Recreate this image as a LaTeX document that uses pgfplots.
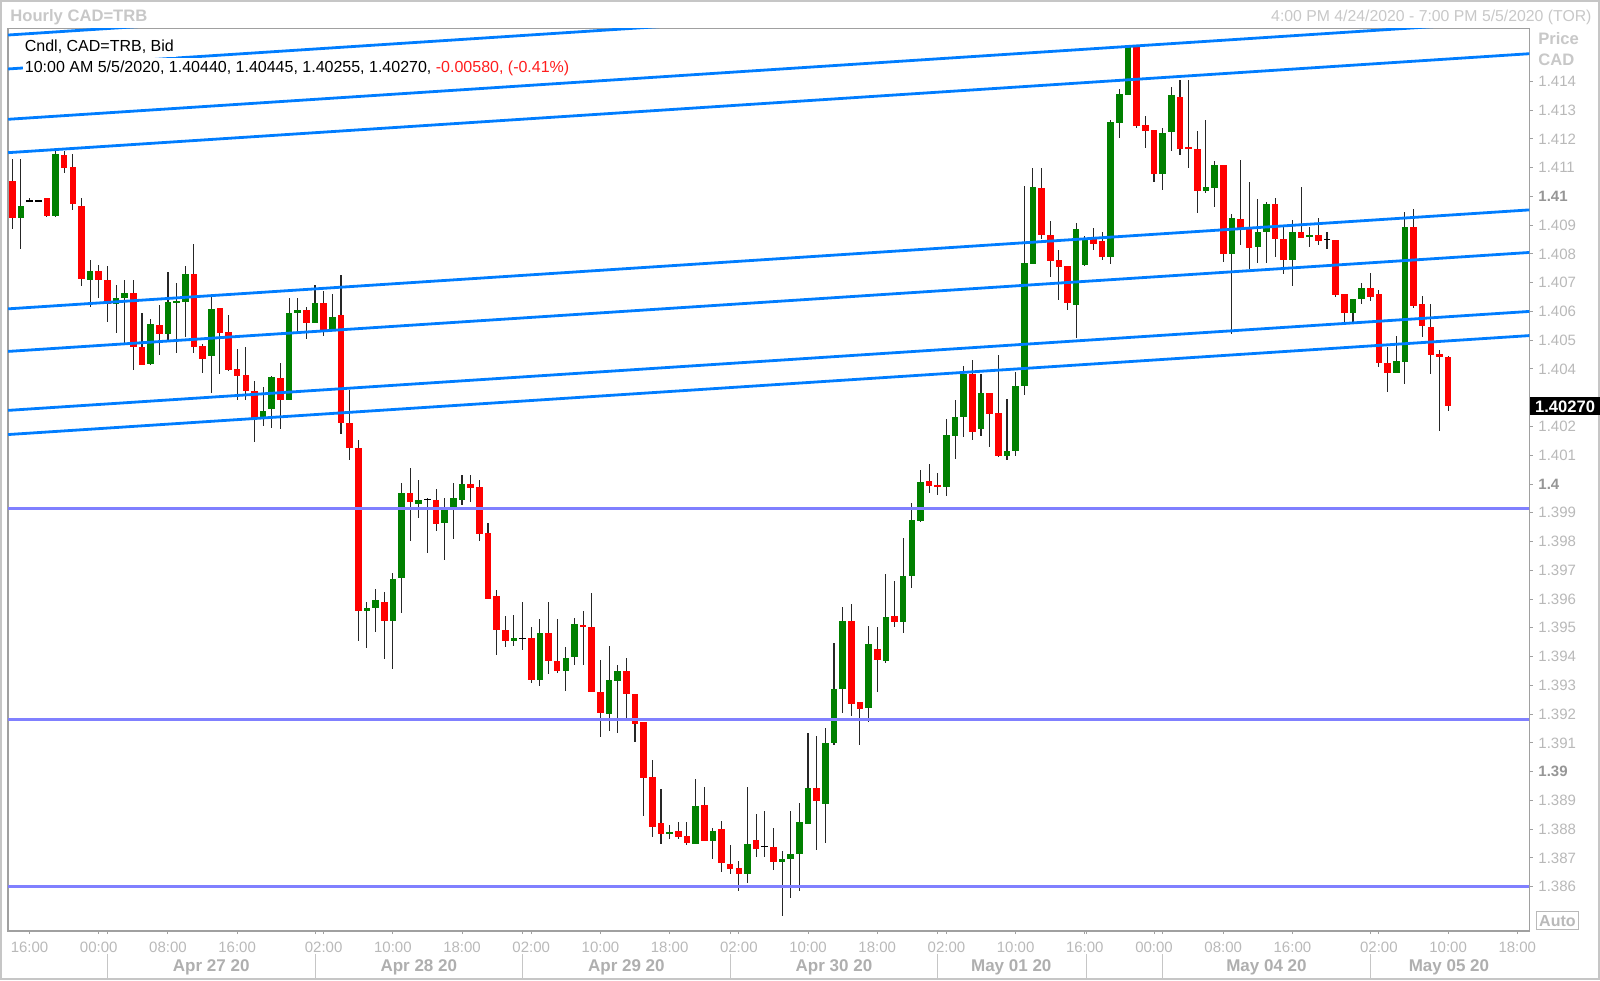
\documentclass[border=0pt]{standalone}
\usepackage{pgfplots}
\usepackage{pgfplotstable}
\pgfplotsset{compat=1.18}
\usepackage{fontspec}
\setmainfont{Liberation Sans}

\definecolor{framegray}{RGB}{160,160,160}
\definecolor{titlegray}{RGB}{200,200,200}
\definecolor{lightlab}{RGB}{185,185,185}
\definecolor{datelab}{RGB}{175,175,175}
\definecolor{boldlab}{RGB}{150,150,150}
\definecolor{upgreen}{RGB}{0,128,0}
\definecolor{downred}{RGB}{255,0,0}
\definecolor{trendblue}{RGB}{0,125,255}
\definecolor{levelblue}{RGB}{128,128,255}
\definecolor{legred}{RGB}{255,30,30}

% hourly candles, CAD=TRB bid (bar index, open, high, low, close)
\pgfplotstableread{
i o h l c
0 1.41054 1.41130 1.40887 1.40926
1 1.40926 1.41130 1.40817 1.40967
2 1.40984 1.40995 1.40981 1.40984
3 1.40984 1.40988 1.40981 1.40984
4 1.40995 1.40995 1.40929 1.40932
5 1.40932 1.41159 1.40929 1.41146
6 1.41146 1.41159 1.41080 1.41101
7 1.41103 1.41150 1.40953 1.40973
8 1.40968 1.40994 1.40688 1.40712
9 1.40712 1.40779 1.40617 1.40742
10 1.40742 1.40762 1.40646 1.40712
11 1.40712 1.40758 1.40565 1.40626
12 1.40626 1.40692 1.40526 1.40646
13 1.40646 1.40712 1.40489 1.40663
14 1.40663 1.40712 1.40396 1.40478
15 1.40478 1.40596 1.40414 1.40416
16 1.40416 1.40576 1.40416 1.40557
17 1.40553 1.40623 1.40449 1.40522
18 1.40522 1.40738 1.40501 1.40634
19 1.40631 1.40700 1.40457 1.40637
20 1.40634 1.40759 1.40512 1.40730
21 1.40730 1.40837 1.40457 1.40478
22 1.40480 1.40487 1.40386 1.40435
23 1.40445 1.40663 1.40319 1.40608
24 1.40613 1.40613 1.40385 1.40524
25 1.40528 1.40588 1.40396 1.40396
26 1.40401 1.40468 1.40292 1.40376
27 1.40379 1.40478 1.40292 1.40323
28 1.40324 1.40359 1.40147 1.40229
29 1.40234 1.40338 1.40203 1.40255
30 1.40260 1.40376 1.40194 1.40371
31 1.40371 1.40420 1.40190 1.40292
32 1.40292 1.40646 1.40292 1.40596
33 1.40596 1.40646 1.40530 1.40605
34 1.40605 1.40617 1.40503 1.40562
35 1.40562 1.40692 1.40562 1.40632
36 1.40632 1.40672 1.40515 1.40538
37 1.40538 1.40663 1.40538 1.40582
38 1.40587 1.40727 1.40174 1.40213
39 1.40211 1.40327 1.40085 1.40124
40 1.40126 1.40156 1.39455 1.39559
41 1.39559 1.39591 1.39432 1.39570
42 1.39568 1.39634 1.39487 1.39599
43 1.39591 1.39624 1.39394 1.39525
44 1.39525 1.39690 1.39357 1.39672
45 1.39672 1.40005 1.39553 1.39971
46 1.39971 1.40057 1.39803 1.39939
47 1.39933 1.40014 1.39883 1.39945
48 1.39945 1.39954 1.39763 1.39945
49 1.39945 1.39982 1.39838 1.39864
50 1.39864 1.39954 1.39736 1.39910
51 1.39919 1.40005 1.39808 1.39954
52 1.39945 1.40031 1.39927 1.40002
53 1.40000 1.40031 1.39939 1.39989
54 1.39991 1.40014 1.39803 1.39826
55 1.39829 1.39864 1.39600 1.39600
56 1.39611 1.39631 1.39405 1.39492
57 1.39492 1.39542 1.39432 1.39455
58 1.39455 1.39545 1.39440 1.39464
59 1.39464 1.39591 1.39425 1.39464
60 1.39464 1.39504 1.39310 1.39318
61 1.39318 1.39533 1.39299 1.39483
62 1.39483 1.39589 1.39339 1.39385
63 1.39385 1.39533 1.39345 1.39350
64 1.39350 1.39434 1.39280 1.39397
65 1.39397 1.39533 1.39371 1.39513
66 1.39513 1.39560 1.39371 1.39506
67 1.39506 1.39622 1.39278 1.39278
68 1.39278 1.39388 1.39121 1.39203
69 1.39203 1.39437 1.39141 1.39321
70 1.39316 1.39371 1.39135 1.39351
71 1.39351 1.39397 1.39185 1.39270
72 1.39270 1.39270 1.39104 1.39166
73 1.39174 1.39174 1.38849 1.38979
74 1.38982 1.39040 1.38774 1.38808
75 1.38822 1.38940 1.38751 1.38783
76 1.38783 1.38814 1.38765 1.38791
77 1.38794 1.38826 1.38765 1.38774
78 1.38776 1.38826 1.38745 1.38751
79 1.38751 1.38977 1.38751 1.38881
80 1.38884 1.38949 1.38760 1.38760
81 1.38762 1.38806 1.38699 1.38795
82 1.38803 1.38832 1.38652 1.38683
83 1.38679 1.38745 1.38646 1.38664
84 1.38667 1.38689 1.38587 1.38644
85 1.38644 1.38949 1.38614 1.38751
86 1.38762 1.38855 1.38704 1.38733
87 1.38739 1.38863 1.38704 1.38739
88 1.38739 1.38806 1.38658 1.38687
89 1.38687 1.38725 1.38498 1.38699
90 1.38697 1.38863 1.38562 1.38716
91 1.38714 1.38892 1.38587 1.38825
92 1.38820 1.39137 1.38820 1.38943
93 1.38943 1.39124 1.38727 1.38899
94 1.38890 1.39153 1.38753 1.39102
95 1.39102 1.39447 1.39093 1.39290
96 1.39288 1.39571 1.39204 1.39525
97 1.39527 1.39583 1.39192 1.39238
98 1.39242 1.39242 1.39093 1.39217
99 1.39223 1.39506 1.39173 1.39444
100 1.39428 1.39503 1.39279 1.39387
101 1.39387 1.39689 1.39378 1.39540
102 1.39540 1.39664 1.39502 1.39521
103 1.39521 1.39813 1.39484 1.39679
104 1.39679 1.39934 1.39639 1.39875
105 1.39872 1.40049 1.39869 1.40009
106 1.40009 1.40072 1.39971 1.39993
107 1.39999 1.40039 1.39960 1.39989
108 1.39989 1.40227 1.39960 1.40169
109 1.40169 1.40291 1.40088 1.40235
110 1.40235 1.40412 1.40164 1.40382
111 1.40382 1.40431 1.40155 1.40183
112 1.40192 1.40382 1.40167 1.40316
113 1.40316 1.40316 1.40129 1.40244
114 1.40247 1.40449 1.40095 1.40098
115 1.40098 1.40297 1.40086 1.40115
116 1.40115 1.40390 1.40098 1.40341
117 1.40341 1.41036 1.40310 1.40769
118 1.40766 1.41099 1.40766 1.41032
119 1.41030 1.41101 1.40853 1.40866
120 1.40866 1.40915 1.40722 1.40777
121 1.40778 1.40816 1.40641 1.40756
122 1.40759 1.40759 1.40605 1.40630
123 1.40625 1.40909 1.40507 1.40887
124 1.40762 1.40862 1.40758 1.40851
125 1.40851 1.40889 1.40814 1.40834
126 1.40846 1.40877 1.40779 1.40790
127 1.40790 1.41266 1.40767 1.41260
128 1.41256 1.41376 1.41204 1.41356
129 1.41353 1.41527 1.41353 1.41519
130 1.41519 1.41527 1.41237 1.41246
131 1.41248 1.41280 1.41167 1.41228
132 1.41231 1.41231 1.41051 1.41078
133 1.41078 1.41240 1.41022 1.41220
134 1.41225 1.41382 1.41159 1.41353
135 1.41345 1.41405 1.41144 1.41167
136 1.41171 1.41405 1.41101 1.41165
137 1.41167 1.41229 1.40944 1.41019
138 1.41019 1.41266 1.41013 1.41034
139 1.41032 1.41123 1.40962 1.41109
140 1.41109 1.41109 1.40771 1.40800
141 1.40800 1.40939 1.40523 1.40924
142 1.40924 1.41130 1.40834 1.40893
143 1.40887 1.41051 1.40747 1.40823
144 1.40823 1.40994 1.40771 1.40877
145 1.40877 1.40982 1.40771 1.40974
146 1.40974 1.40994 1.40790 1.40854
147 1.40854 1.40895 1.40730 1.40779
148 1.40779 1.40918 1.40689 1.40877
149 1.40877 1.41032 1.40858 1.40858
150 1.40858 1.40895 1.40825 1.40865
151 1.40865 1.40924 1.40831 1.40846
152 1.40849 1.40875 1.40816 1.40849
153 1.40849 1.40849 1.40652 1.40657
154 1.40660 1.40660 1.40559 1.40596
155 1.40596 1.40644 1.40559 1.40644
156 1.40644 1.40700 1.40629 1.40681
157 1.40681 1.40733 1.40638 1.40649
158 1.40660 1.40675 1.40410 1.40420
159 1.40422 1.40478 1.40321 1.40387
160 1.40387 1.40515 1.40387 1.40428
161 1.40425 1.40947 1.40348 1.40895
162 1.40895 1.40955 1.40613 1.40620
163 1.40626 1.40654 1.40512 1.40548
164 1.40548 1.40626 1.40382 1.40451
165 1.40452 1.40468 1.40185 1.40442
166 1.40440 1.40445 1.40255 1.40270
}\candles

\begin{document}
\begin{tikzpicture}
\useasboundingbox (-4.1pt,-24.5pt) rectangle (795.9pt,465.5pt);
\fill[white] (-4.1pt,-24.5pt) rectangle (795.9pt,465.5pt);
\draw[framegray!60, line width=0.8pt] (-3.7pt,-24.1pt) rectangle (795.5pt,465.1pt);
\begin{axis}[
    at={(0,0)}, anchor=south west,
    scale only axis, width=760.6pt, height=451.3pt,
    xmin=-0.47, xmax=175.4,
    ymin=1.38446, ymax=1.41584,
    clip mode=individual,
    axis line style={draw=framegray, line width=0.75pt},
    tick align=outside, major tick length=1.6pt,
    tick style={draw=framegray, line width=0.5pt},
    xtick pos=bottom, ytick pos=right,
    xtick={2,10,18,26,36,44,52,60,68,76,84,92,100,108,116,124,132,140,148,158,166,174},
    xticklabels={16:00,00:00,08:00,16:00,02:00,10:00,18:00,02:00,10:00,18:00,02:00,10:00,18:00,02:00,10:00,16:00,00:00,08:00,16:00,02:00,10:00,18:00},
    extra x ticks={11,35,59,83,107,124.2,133,157},
    extra x tick labels={},
    xticklabel style={anchor=center, font=\fontsize{7.5}{9}\selectfont, text=lightlab, inner sep=0pt},
    xticklabel shift=6.8pt,
    ytick={1.386,1.387,1.388,1.389,1.390,1.391,1.392,1.393,1.394,1.395,1.396,1.397,1.398,1.399,1.400,1.401,1.402,1.403,1.404,1.405,1.406,1.407,1.408,1.409,1.410,1.411,1.412,1.413,1.414},
    yticklabels={1.386,1.387,1.388,1.389,\textbf{\color{boldlab}1.39},1.391,1.392,1.393,1.394,1.395,1.396,1.397,1.398,1.399,\textbf{\color{boldlab}1.4},1.401,1.402,,1.404,1.405,1.406,1.407,1.408,1.409,\textbf{\color{boldlab}1.41},1.411,1.412,1.413,1.414},
    yticklabel style={anchor=west, font=\fontsize{7.5}{9}\selectfont, text=lightlab, inner sep=0pt},
    yticklabel shift=2.7pt,
]

% wicks
\addplot[draw=none, mark=none,
    error bars/.cd, y dir=both, y explicit, error mark=none,
    error bar style={draw=black!85, line width=0.55pt}]
    table[x=i, y expr=(\thisrow{h}+\thisrow{l})/2, y error expr=(\thisrow{h}-\thisrow{l})/2] {\candles};

% rising bodies
\addplot[draw=none, mark=none,
    restrict expr to domain={\thisrow{c}-\thisrow{o}}{0.000001:1},
    error bars/.cd, y dir=both, y explicit, error mark=none,
    error bar style={draw=upgreen, line width=3.3pt}]
    table[x=i, y expr=(\thisrow{o}+\thisrow{c})/2, y error expr=abs(\thisrow{c}-\thisrow{o})/2] {\candles};

% falling bodies
\addplot[draw=none, mark=none,
    restrict expr to domain={\thisrow{c}-\thisrow{o}}{-1:-0.000001},
    error bars/.cd, y dir=both, y explicit, error mark=none,
    error bar style={draw=downred, line width=3.3pt}]
    table[x=i, y expr=(\thisrow{o}+\thisrow{c})/2, y error expr=abs(\thisrow{c}-\thisrow{o})/2] {\candles};

% unchanged bars
\addplot[only marks, mark=-, mark size=1.7pt, black, mark options={line width=0.6pt},
    restrict expr to domain={\thisrow{c}-\thisrow{o}}{-0.000001:0.000001}]
    table[x=i, y=o] {\candles};

% channel lines
\addplot[trendblue, line width=1.4pt] coordinates {(-0.47,1.41561) (175.4,1.41905)};
\addplot[trendblue, line width=1.4pt] coordinates {(-0.47,1.41443) (175.4,1.41787)};
\addplot[trendblue, line width=1.4pt] coordinates {(-0.47,1.41268) (175.4,1.41612)};
\addplot[trendblue, line width=1.4pt] coordinates {(-0.47,1.41152) (175.4,1.41496)};
\addplot[trendblue, line width=1.4pt] coordinates {(-0.47,1.40609) (175.4,1.40953)};
\addplot[trendblue, line width=1.4pt] coordinates {(-0.47,1.40461) (175.4,1.40805)};
\addplot[trendblue, line width=1.4pt] coordinates {(-0.47,1.40256) (175.4,1.40600)};
\addplot[trendblue, line width=1.4pt] coordinates {(-0.47,1.40172) (175.4,1.40516)};

% horizontal levels
\addplot[levelblue, line width=1.4pt] coordinates {(-0.47,1.39916) (175.4,1.39916)};
\addplot[levelblue, line width=1.4pt] coordinates {(-0.47,1.39182) (175.4,1.39182)};
\addplot[levelblue, line width=1.4pt] coordinates {(-0.47,1.38600) (175.4,1.38600)};

% legend
\node[anchor=west, fill=white, inner xsep=1pt, inner ysep=1.5pt, font=\fontsize{8}{9.6}\selectfont, xshift=7.15pt, yshift=-9.3pt]
    at (rel axis cs:0,1) {Cndl, CAD=TRB, Bid};
\node[anchor=west, fill=white, inner xsep=1pt, inner ysep=1.5pt, font=\fontsize{8}{9.6}\selectfont, xshift=7.15pt, yshift=-19.8pt]
    at (rel axis cs:0,1) {10:00 AM 5/5/2020, 1.40440, 1.40445, 1.40255, 1.40270, \textcolor{legred}{-0.00580, (-0.41\%)}};

% header
\node[anchor=west, inner sep=0pt, font=\bfseries\fontsize{8.3}{10}\selectfont, text=titlegray, xshift=0.9pt, yshift=5.6pt]
    at (rel axis cs:0,1) {Hourly CAD=TRB};
\node[anchor=east, inner sep=0pt, font=\fontsize{7.9}{9.5}\selectfont, text=titlegray, xshift=31.25pt, yshift=5.6pt]
    at (rel axis cs:1,1) {4:00 PM 4/24/2020 - 7:00 PM 5/5/2020 (TOR)};
\node[anchor=west, inner sep=0pt, font=\bfseries\fontsize{8.3}{10}\selectfont, text=titlegray, xshift=4.25pt, yshift=-5.2pt]
    at (rel axis cs:1,1) {Price};
\node[anchor=west, inner sep=0pt, font=\bfseries\fontsize{8.3}{10}\selectfont, text=titlegray, xshift=4.25pt, yshift=-15.9pt]
    at (rel axis cs:1,1) {CAD};

% last price and scale mode
\node[anchor=west, fill=black, text=white, inner sep=0pt, minimum width=35.3pt, minimum height=9pt, font=\bfseries\fontsize{8.3}{9}\selectfont]
    at (axis cs:175.4,1.40270) {1.40270};
\node[anchor=south west, draw=lightlab, line width=0.6pt, inner sep=0pt, minimum width=21pt, minimum height=9pt, font=\bfseries\fontsize{8}{9}\selectfont, text=lightlab, xshift=3.2pt, yshift=0.3pt]
    at (rel axis cs:1,0) {Auto};

% day row
\draw[framegray!60, line width=0.5pt] ([yshift=-11.5pt]axis cs:11,1.38446) -- ([yshift=-23.3pt]axis cs:11,1.38446);
\draw[framegray!60, line width=0.5pt] ([yshift=-11.5pt]axis cs:35,1.38446) -- ([yshift=-23.3pt]axis cs:35,1.38446);
\draw[framegray!60, line width=0.5pt] ([yshift=-11.5pt]axis cs:59,1.38446) -- ([yshift=-23.3pt]axis cs:59,1.38446);
\draw[framegray!60, line width=0.5pt] ([yshift=-11.5pt]axis cs:83,1.38446) -- ([yshift=-23.3pt]axis cs:83,1.38446);
\draw[framegray!60, line width=0.5pt] ([yshift=-11.5pt]axis cs:107,1.38446) -- ([yshift=-23.3pt]axis cs:107,1.38446);
\draw[framegray!60, line width=0.5pt] ([yshift=-11.5pt]axis cs:124.2,1.38446) -- ([yshift=-23.3pt]axis cs:124.2,1.38446);
\draw[framegray!60, line width=0.5pt] ([yshift=-11.5pt]axis cs:133,1.38446) -- ([yshift=-23.3pt]axis cs:133,1.38446);
\draw[framegray!60, line width=0.5pt] ([yshift=-11.5pt]axis cs:157,1.38446) -- ([yshift=-23.3pt]axis cs:157,1.38446);
\node[font=\bfseries\fontsize{8.5}{10}\selectfont, text=datelab, yshift=-18.4pt] at (axis cs:23,1.38446) {Apr 27 20};
\node[font=\bfseries\fontsize{8.5}{10}\selectfont, text=datelab, yshift=-18.4pt] at (axis cs:47,1.38446) {Apr 28 20};
\node[font=\bfseries\fontsize{8.5}{10}\selectfont, text=datelab, yshift=-18.4pt] at (axis cs:71,1.38446) {Apr 29 20};
\node[font=\bfseries\fontsize{8.5}{10}\selectfont, text=datelab, yshift=-18.4pt] at (axis cs:95,1.38446) {Apr 30 20};
\node[font=\bfseries\fontsize{8.5}{10}\selectfont, text=datelab, yshift=-18.4pt] at (axis cs:115.5,1.38446) {May 01 20};
\node[font=\bfseries\fontsize{8.5}{10}\selectfont, text=datelab, yshift=-18.4pt] at (axis cs:145,1.38446) {May 04 20};
\node[font=\bfseries\fontsize{8.5}{10}\selectfont, text=datelab, yshift=-18.4pt] at (axis cs:166.1,1.38446) {May 05 20};
\end{axis}
\end{tikzpicture}
\end{document}
